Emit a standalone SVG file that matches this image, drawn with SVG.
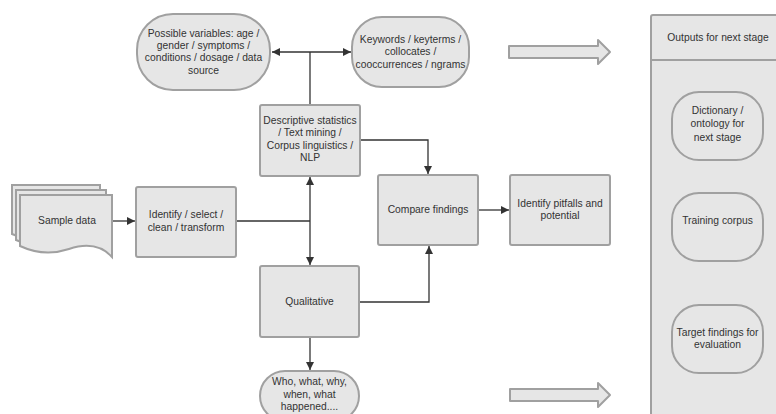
<svg xmlns="http://www.w3.org/2000/svg" width="776" height="414" viewBox="0 0 776 414">
  <style>
    .shape { fill: #e6e6e6; stroke: #a0a0a0; stroke-width: 2; }
    .lbl { font-family: "Liberation Sans", Arial, sans-serif; font-size: 10.3px; fill: #333333; text-anchor: middle; }
    .wire { fill: none; stroke: #333333; stroke-width: 1.3; }
  </style>
  <defs>
    <marker id="arr" viewBox="0 0 10 10" refX="10" refY="5" markerWidth="8" markerHeight="8" markerUnits="userSpaceOnUse" orient="auto-start-reverse">
      <path d="M0,0 L10,5 L0,10 Z" fill="#333333"/>
    </marker>
  </defs>
  <rect width="776" height="414" fill="#ffffff"/>

  <!-- outputs panel -->
  <g id="outputs">
    <rect class="shape" x="651" y="15" width="140" height="420" rx="2"/>
    <line x1="651" y1="60" x2="776" y2="60" stroke="#a0a0a0" stroke-width="2"/>
    <text class="lbl" x="718" y="40.5">Outputs for next stage</text>
  </g>

  <g id="dictionary">
    <rect class="shape" x="672" y="92" width="91" height="68" rx="27" ry="27"/>
    <text class="lbl" x="717.5" y="113.5">Dictionary /</text>
    <text class="lbl" x="717.5" y="127">ontology for</text>
    <text class="lbl" x="717.5" y="140.5">next stage</text>
  </g>

  <g id="training">
    <rect class="shape" x="672" y="193" width="91" height="68" rx="27" ry="27"/>
    <text class="lbl" x="717.5" y="223.5">Training corpus</text>
  </g>

  <g id="target">
    <rect class="shape" x="672" y="305" width="91" height="68" rx="27" ry="27"/>
    <text class="lbl" x="717.5" y="335.5">Target findings for</text>
    <text class="lbl" x="717.5" y="348">evaluation</text>
  </g>

  <!-- block arrows toward the outputs panel -->
  <g id="block-arrow-top">
    <path class="shape" d="M509,46 H598 V40 L610,52 L598,64 V58 H509 Z" stroke-linejoin="round"/>
  </g>
  <g id="block-arrow-bottom">
    <path class="shape" d="M510,389 H598 V383 L610,395 L598,407 V401 H510 Z" stroke-linejoin="round"/>
  </g>

  <!-- connectors -->
  <g id="connectors">
    <path class="wire" d="M310,105 V52"/>
    <path class="wire" d="M310,52 H272" marker-end="url(#arr)"/>
    <path class="wire" d="M310,52 H351" marker-end="url(#arr)"/>
    <path class="wire" d="M360,140 H428 V174" marker-end="url(#arr)"/>
    <path class="wire" d="M112,221 H135" marker-end="url(#arr)"/>
    <path class="wire" d="M236,221 H310"/>
    <path class="wire" d="M310,221 V177" marker-end="url(#arr)"/>
    <path class="wire" d="M310,221 V265" marker-end="url(#arr)"/>
    <path class="wire" d="M359,302 H429 V246" marker-end="url(#arr)"/>
    <path class="wire" d="M478,210 H509" marker-end="url(#arr)"/>
    <path class="wire" d="M310,337 V370" marker-end="url(#arr)"/>
  </g>

  <g id="variables">
    <rect class="shape" x="137" y="14" width="133" height="76" rx="36" ry="36"/>
    <text class="lbl" x="203.5" y="36.5">Possible variables: age /</text>
    <text class="lbl" x="203.5" y="48.5">gender / symptoms /</text>
    <text class="lbl" x="203.5" y="61">conditions / dosage / data</text>
    <text class="lbl" x="203.5" y="73.5">source</text>
  </g>

  <g id="keywords">
    <rect class="shape" x="352" y="17" width="117" height="70" rx="30" ry="30"/>
    <text class="lbl" x="410.5" y="42.5">Keywords / keyterms /</text>
    <text class="lbl" x="410.5" y="55">collocates /</text>
    <text class="lbl" x="410.5" y="67.5">cooccurrences / ngrams</text>
  </g>

  <g id="descriptive">
    <rect class="shape" x="260" y="105" width="100" height="71" rx="2"/>
    <text class="lbl" x="310" y="123.5">Descriptive statistics</text>
    <text class="lbl" x="310" y="136">/ Text mining /</text>
    <text class="lbl" x="310" y="148.5">Corpus linguistics /</text>
    <text class="lbl" x="310" y="161">NLP</text>
  </g>

  <g id="sample-data">
    <path class="shape" d="M12,185 H100 V241 C90,233 78,232 62,237 C45,243 28,241 12,234 Z"/>
    <path class="shape" d="M16,190 H106 V250 C95,239 82,238 65,243 C48,249 32,247 16,240 Z"/>
    <path class="shape" d="M20,195 H112 V257 C101,245 87,243 69,249 C51,255 35,253 20,246 Z"/>
    <text class="lbl" x="67" y="224">Sample data</text>
  </g>

  <g id="identify">
    <rect class="shape" x="136" y="187" width="100" height="70" rx="2"/>
    <text class="lbl" x="186" y="217.5">Identify / select /</text>
    <text class="lbl" x="186" y="230.5">clean / transform</text>
  </g>

  <g id="compare">
    <rect class="shape" x="378" y="175" width="100" height="70" rx="2"/>
    <text class="lbl" x="428" y="212.5">Compare findings</text>
  </g>

  <g id="pitfalls">
    <rect class="shape" x="510" y="175" width="100" height="70" rx="2"/>
    <text class="lbl" x="560" y="206.5">Identify pitfalls and</text>
    <text class="lbl" x="560" y="219">potential</text>
  </g>

  <g id="qualitative">
    <rect class="shape" x="260" y="266" width="99" height="71" rx="2"/>
    <text class="lbl" x="309.5" y="304.5">Qualitative</text>
  </g>

  <g id="who-what">
    <rect class="shape" x="260" y="371" width="99" height="50" rx="25" ry="25"/>
    <text class="lbl" x="309.5" y="385">Who, what, why,</text>
    <text class="lbl" x="309.5" y="397.5">when, what</text>
    <text class="lbl" x="309.5" y="410">happened....</text>
  </g>
</svg>
